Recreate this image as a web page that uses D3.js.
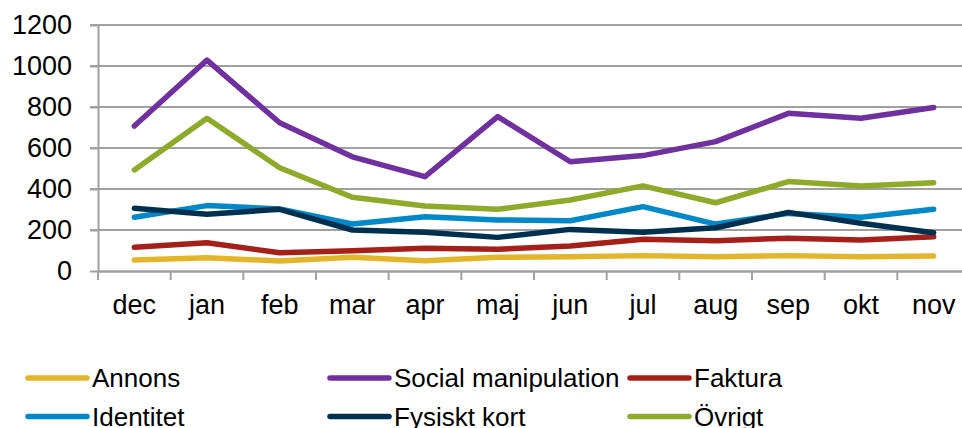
<!DOCTYPE html>
<html><head><meta charset="utf-8">
<script src="https://cdn.jsdelivr.net/npm/d3@7"></script>
<style>body{margin:0;background:#fff;}svg{display:block;font-family:"Liberation Sans",Arial,sans-serif;}</style>
</head><body>
<svg id="c" width="962" height="428"></svg>
<script>
const months = ["dec","jan","feb","mar","apr","maj","jun","jul","aug","sep","okt","nov"];
const yTicks = [0,200,400,600,800,1000,1200];
const seriesNames = ["Annons","Social manipulation","Faktura","Identitet","Fysiskt kort","Övrigt"];
const seriesColors = ["#E3B52B","#7030A0","#A52019","#0088C8","#00304F","#8DAA2B"];
const annons   = [54,65,49,67,50,67,70,75,70,75,70,73];
const social   = [707,1029,723,557,460,753,533,563,631,769,745,798];
const faktura  = [116,138,89,99,111,106,122,155,148,160,151,167];
const identitet= [262,319,303,229,265,249,245,314,229,281,262,301];
const fysiskt  = [306,277,301,200,189,164,203,189,211,286,233,187];
const ovrigt   = [493,745,504,360,317,301,346,415,333,436,415,431];
const seriesValues = [annons,social,faktura,identitet,fysiskt,ovrigt];

(function(){
const svg = d3.select("#c");
const pL = 98, pR = 970, pT = 25, pB = 271;
const x = d3.scaleBand().domain(months).range([pL,pR]);
const y = d3.scaleLinear().domain([0,1200]).range([pB,pT]);
const FF = "Liberation Sans, Arial, sans-serif";

// gridlines
svg.append("g").selectAll("line").data(yTicks.filter(d=>d>0)).join("line")
  .attr("x1",pL-8).attr("x2",pR).attr("y1",d=>y(d)).attr("y2",d=>y(d))
  .attr("stroke","#a0a0a0").attr("stroke-width",2);

// y axis
const ya = svg.append("g").attr("transform",`translate(${pL},0)`)
  .call(d3.axisLeft(y).tickValues(yTicks).tickFormat(d3.format("d")).tickSize(8).tickSizeOuter(0).tickPadding(18));
ya.select(".domain").attr("stroke","#a0a0a0").attr("stroke-width",2);
ya.selectAll(".tick line").attr("stroke","#a0a0a0").attr("stroke-width",2);
ya.selectAll(".tick text").attr("font-size",27).attr("fill","#000").attr("font-family",FF);

// x axis
const xa = svg.append("g").attr("transform",`translate(0,${pB})`)
  .call(d3.axisBottom(x).tickSize(0).tickPadding(24));
xa.select(".domain").attr("stroke","#a0a0a0").attr("stroke-width",2.5);
xa.selectAll(".tick text").attr("font-size",27).attr("fill","#000").attr("font-family",FF);
svg.append("g").selectAll("line").data(d3.range(months.length+1)).join("line")
  .attr("x1",i=>pL+i*x.step()).attr("x2",i=>pL+i*x.step())
  .attr("y1",pB).attr("y2",pB+9).attr("stroke","#a0a0a0").attr("stroke-width",2);

// lines
const line = d3.line().x((d,i)=>x(months[i])+x.bandwidth()/2).y(d=>y(d));
svg.append("g").selectAll("path").data(seriesValues).join("path")
  .attr("d",line).attr("fill","none").attr("stroke",(d,i)=>seriesColors[i])
  .attr("stroke-width",5.5).attr("stroke-linejoin","round").attr("stroke-linecap","round");

// legend
const legPos = [[28,378],[330,378],[630,378],[28,416.5],[330,416.5],[630,416.5]];
const lg = svg.append("g").selectAll("g").data(seriesNames).join("g")
  .attr("transform",(d,i)=>`translate(${legPos[i][0]},${legPos[i][1]})`);
lg.append("line").attr("x1",0).attr("x2",59).attr("y1",0).attr("y2",0)
  .attr("stroke",(d,i)=>seriesColors[i]).attr("stroke-width",5.5).attr("stroke-linecap","round");
lg.append("text").attr("x",64).attr("y",9).attr("font-size",26).attr("fill","#000")
  .attr("font-family",FF).text(d=>d);
})();
</script>
</body></html>
